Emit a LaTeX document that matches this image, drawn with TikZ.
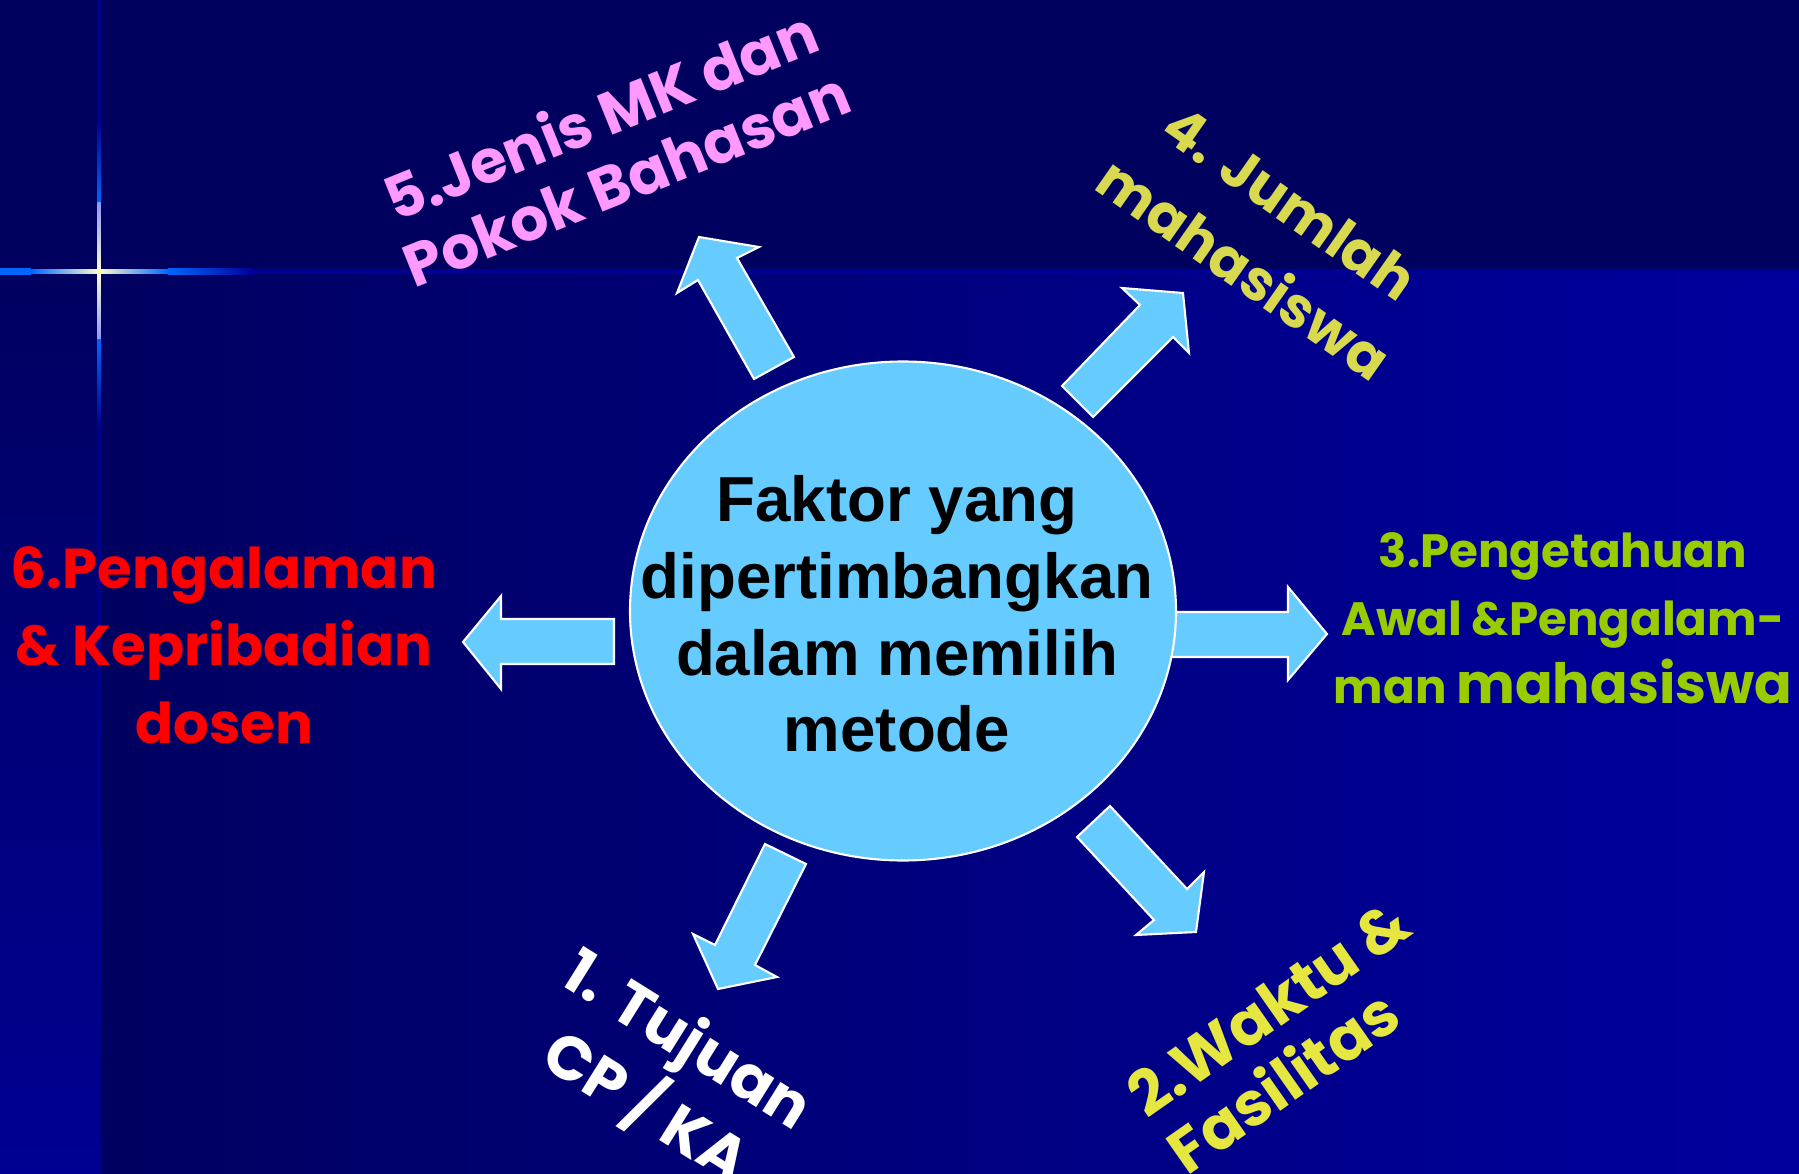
\documentclass[tikz,border=0pt]{standalone}
\usepackage{fontspec}
\setmainfont{Liberation Sans}
\newfontfamily\comic{Poppins}
\usetikzlibrary{shapes.geometric}
\definecolor{topbg}{HTML}{00005E}
\definecolor{bgleft}{HTML}{000060}
\definecolor{bgright}{HTML}{00009E}
\definecolor{stripbot}{HTML}{000092}
\definecolor{hlinecol}{HTML}{000096}
\definecolor{vlinecol}{HTML}{00008C}
\definecolor{flareblue}{HTML}{0066FF}
\definecolor{flarelight}{HTML}{8899FF}
\definecolor{cream}{HTML}{FFFFCC}
\definecolor{circfill}{HTML}{66CCFF}
\definecolor{pinkc}{HTML}{FF99FF}
\definecolor{yellowa}{HTML}{D9D950}
\definecolor{yellowb}{HTML}{E6E640}
\definecolor{greenc}{HTML}{99CC00}
\definecolor{redc}{HTML}{FF0000}
\tikzset{
  barrow/.style={fill=circfill, draw=white, line width=0.6pt, line join=miter},
  lbl/.style={align=center, inner sep=0pt, font=\comic\bfseries\fontsize{16}{20}\selectfont},
  core/.style={ellipse, draw=white, line width=0.6pt, fill=circfill, inner sep=0pt,
    minimum width=54.6mm, minimum height=49.9mm}
}
\begin{document}
\begin{tikzpicture}[x=0.1mm,y=-0.1mm]
\useasboundingbox (0,0) rectangle (1799,1174);
% background
\fill[topbg] (0,0) rectangle (1799,272);
\shade[left color=bgleft, right color=bgright] (99,272) rectangle (1799,1174);
\shade[top color=bgleft, bottom color=stripbot] (0,272) rectangle (99,1174);
\fill[hlinecol] (0,269.5) rectangle (1799,274.5);
\fill[vlinecol] (97,0) rectangle (101,1174);
% flare
\fill[flareblue] (0,268.5) rectangle (31,275.5);
\shade[left color=flareblue, right color=cream] (31,270) rectangle (99,274);
\shade[left color=cream, right color=flareblue] (99,270) rectangle (168,274);
\shade[left color=flareblue, right color=hlinecol] (168,269) rectangle (253,275);
\shade[top color=vlinecol, bottom color=flareblue] (97,120) rectangle (101,203);
\shade[top color=flarelight, bottom color=cream] (97.5,203) rectangle (100.5,272);
\shade[top color=cream, bottom color=flarelight] (97.5,272) rectangle (100.5,340);
\shade[top color=flareblue, bottom color=vlinecol] (97,340) rectangle (101,427);
% block arrows
\draw[barrow] (699,237) -- (759,247) -- (737,258) -- (794,357) -- (754,379) -- (698,280) -- (677,293) -- cycle;
\draw[barrow] (1183,293) -- (1189,353) -- (1173,337) -- (1093,417) -- (1062,386) -- (1140,305) -- (1122,288) -- cycle;
\draw[barrow] (1170,612) -- (1288,612) -- (1288,587) -- (1327,634) -- (1288,680) -- (1288,657) -- (1170,657) -- cycle;
\draw[barrow] (1110,806) -- (1187,889) -- (1204,872) -- (1196,932) -- (1136,935) -- (1154,920) -- (1077,837) -- cycle;
\draw[barrow] (765,844) -- (806,864) -- (755,965) -- (777,977) -- (718,989) -- (693,934) -- (715,945) -- cycle;
\draw[barrow] (463,642) -- (501,596) -- (501,619) -- (614,619) -- (614,664) -- (501,664) -- (501,689) -- cycle;
% central ellipse
\node[core] (core) at (903,611) {};
\node[align=center, inner sep=0pt, font=\bfseries\fontsize{18.1}{21.8}\selectfont] (title) at (897,614)
  {Faktor yang\\dipertimbangkan\\dalam memilih\\metode};
% labels
\node[lbl, text=redc, font=\comic\bfseries\fontsize{16}{22}\selectfont] (l6) at (224,645)
  {6.Pengalaman\\\& Kepribadian\\dosen};
\node[lbl, text=greenc, font=\comic\bfseries\fontsize{13.3}{19.3}\selectfont] (l3) at (1563,618)
  {3.Pengetahuan\\Awal \&Pengalam-\\man {\fontsize{15.8}{19.3}\selectfont mahasiswa}};
\node[lbl, text=pinkc, rotate=22, font=\comic\bfseries\fontsize{17}{19.5}\selectfont] (l5) at (613,146)
  {5.Jenis MK dan\\Pokok Bahasan};
\node[lbl, text=yellowa, rotate=-35, font=\comic\bfseries\fontsize{16}{23}\selectfont] (l4) at (1267,236)
  {4. Jumlah\\mahasiswa};
\node[lbl, text=white, rotate=-32, font=\comic\bfseries\fontsize{17.5}{22.5}\selectfont] (l1) at (666,1075)
  {1. Tujuan\\CP / KA};
\node[lbl, text=yellowb, rotate=35, align=left, font=\comic\bfseries\fontsize{17.5}{19.6}\selectfont] (l2) at (1288,1036)
  {2.Waktu \&\\Fasilitas};
\end{tikzpicture}
\end{document}
